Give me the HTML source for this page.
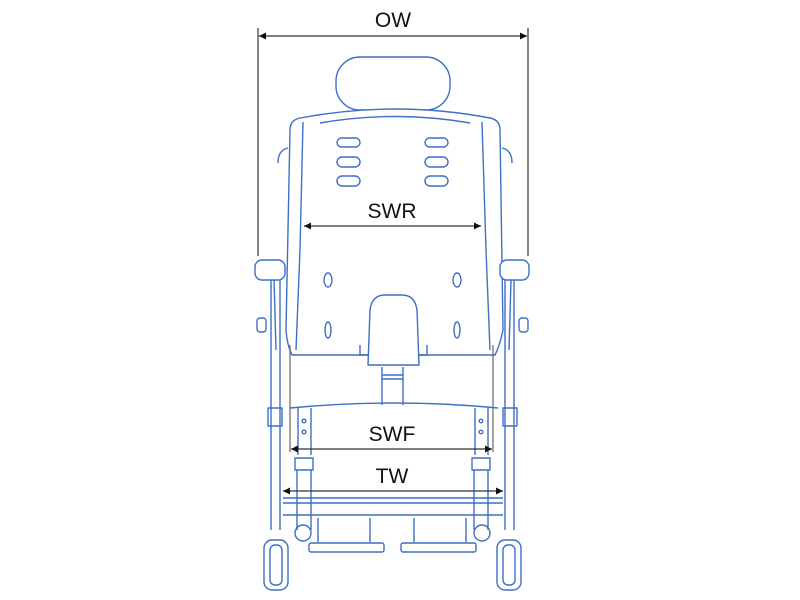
<!DOCTYPE html>
<html><head><style>
html,body{margin:0;padding:0;background:#fff;}
svg{display:block;}
text{font-family:"Liberation Sans",sans-serif;fill:#111;}
</style></head><body>
<svg width="800" height="600" viewBox="0 0 800 600" xmlns="http://www.w3.org/2000/svg">
<defs>
<marker id="a" viewBox="0 0 10 10" refX="10" refY="5" markerWidth="9" markerHeight="7" orient="auto-start-reverse" markerUnits="userSpaceOnUse"><path d="M0,0 L10,5 L0,10 z" fill="#111"/></marker>
</defs>
<g fill="none" stroke="#3d6fc4" stroke-width="1.4" stroke-linejoin="round">
<!-- headrest -->
<rect x="336" y="57" width="114" height="53" rx="24" fill="#fff"/>
<!-- backrest -->
<path d="M290,130 Q290,120 300,118 Q395,100 490,118 Q500,120 500,130 L503,330 Q500,345 495,355 L292,355 Q287,345 286,330 Z" fill="#fff"/>
<path d="M303,122 L300,250 L296,350"/>
<path d="M482,122 L486,250 L490,350"/>
<path d="M320,123 Q395,110 470,123"/>
<!-- slots -->
<g>
<rect x="337" y="138" width="23" height="9" rx="4.5"/><rect x="337" y="157" width="23" height="10" rx="5"/><rect x="337" y="176" width="23" height="10" rx="5"/>
<rect x="425" y="138" width="23" height="9" rx="4.5"/><rect x="425" y="157" width="23" height="10" rx="5"/><rect x="425" y="176" width="23" height="10" rx="5"/>
<ellipse cx="328" cy="280" rx="4" ry="7"/><ellipse cx="457" cy="280" rx="4" ry="7"/>
<ellipse cx="328" cy="330" rx="3" ry="8"/><ellipse cx="457" cy="330" rx="3" ry="8"/>
</g>
<!-- side handles -->
<path d="M288,148 Q278,150 278,163"/><path d="M502,148 Q512,150 512,163"/>
<!-- side frames -->
<path d="M271,280 L271,530 M280,280 L280,530"/>
<path d="M514,280 L514,530 M505,280 L505,530"/>
<path d="M274,280 L276,350 M511,280 L509,350"/>
<rect x="255" y="260" width="30" height="20" rx="7" fill="#fff"/>
<rect x="500" y="260" width="29" height="20" rx="7" fill="#fff"/>
<rect x="257" y="318" width="9" height="14" rx="3"/><rect x="519" y="318" width="9" height="14" rx="3"/>
<rect x="268" y="408" width="14" height="18"/><rect x="503" y="408" width="14" height="18"/>
<!-- seat cushion -->
<path d="M368,365 L370,310 Q372,295 385,295 L402,295 Q415,295 417,310 L419,365 Z" fill="#fff"/>
<path d="M360,345 L360,355 L368,355 M427,345 L427,355 L419,355"/>
<path d="M382,367 L382,405 M403,367 L403,405 M382,375 L403,375 M382,379 L403,379"/>
<!-- seat front -->
<path d="M290,408 Q395,398 498,408"/>
<path d="M298,408 L298,455 M311,408 L311,455 M475,408 L475,455 M488,408 L488,455"/>
<circle cx="304" cy="421" r="1.8"/><circle cx="304" cy="432" r="1.8"/>
<circle cx="481" cy="421" r="1.8"/><circle cx="481" cy="432" r="1.8"/>
<rect x="295" y="458" width="18" height="12"/><rect x="472" y="458" width="18" height="12"/>
<path d="M297,470 L297,530 M311,470 L311,530 M474,470 L474,530 M488,470 L488,530"/>
<!-- crossbar -->
<path d="M283,498 L503,498 M283,503 L503,503 M283,515 L503,515" stroke-width="1.6"/>
<circle cx="303" cy="533" r="8"/><circle cx="482" cy="533" r="8"/>
<path d="M318,518 L318,542 M370,518 L370,542 M414,518 L414,542 M466,518 L466,542"/>
<rect x="309" y="543" width="75" height="9" rx="2"/>
<rect x="401" y="543" width="75" height="9" rx="2"/>
<!-- casters -->
<rect x="264" y="540" width="24" height="50" rx="8"/>
<rect x="270" y="545" width="12" height="40" rx="5"/>
<rect x="497" y="540" width="24" height="50" rx="8"/>
<rect x="503" y="545" width="12" height="40" rx="5"/>
</g>
<!-- dimension lines -->
<g stroke="#333" stroke-width="1.2" fill="none">
<path d="M258,28 L258,256 M528,28 L528,256"/>
<path d="M290,345 L290,452 M493,345 L493,452" stroke="#666"/>
<line x1="259" y1="36" x2="527" y2="36" marker-start="url(#a)" marker-end="url(#a)"/>
<line x1="304" y1="226" x2="481" y2="226" marker-start="url(#a)" marker-end="url(#a)"/>
<line x1="291" y1="449" x2="492" y2="449" marker-start="url(#a)" marker-end="url(#a)"/>
<line x1="283" y1="491" x2="503" y2="491" marker-start="url(#a)" marker-end="url(#a)"/>
</g>
<text x="393" y="27" font-size="21" text-anchor="middle">OW</text>
<text x="392" y="218" font-size="21" text-anchor="middle">SWR</text>
<text x="392" y="441" font-size="21" text-anchor="middle">SWF</text>
<text x="392" y="483" font-size="21" text-anchor="middle">TW</text>
</svg>
</body></html>
